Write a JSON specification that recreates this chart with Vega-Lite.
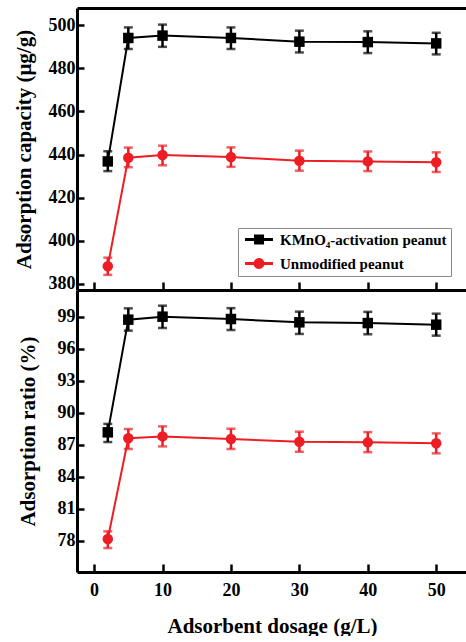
{
  "$schema": "https://vega.github.io/schema/vega-lite/v6.json",
  "padding": {"left": 12, "top": 8, "right": 0, "bottom": 0},
  "background": "white",
  "spacing": 0,
  "bounds": "flush",
  "config": {
    "font": "Liberation Serif",
    "view": {"stroke": null},
    "axis": {
      "labelFont": "Liberation Serif", "labelFontWeight": "bold", "labelFontSize": 18, "labelColor": "black",
      "titleFont": "Liberation Serif", "titleFontWeight": "bold", "titleFontSize": 21, "titleColor": "black",
      "domainColor": "black", "domainWidth": 3, "tickColor": "black", "tickWidth": 2.5, "grid": false
    }
  },
  "datasets": {
    "d": [
      {"dosage": 2, "series": "KMnO₄-activation peanut", "cap": 436.8, "capLo": 432.3, "capHi": 441.5, "ratio": 88.16, "ratioLo": 87.25, "ratioHi": 88.95},
      {"dosage": 5, "series": "KMnO₄-activation peanut", "cap": 494.0, "capLo": 488.9, "capHi": 498.9, "ratio": 98.72, "ratioLo": 97.69, "ratioHi": 99.78},
      {"dosage": 10, "series": "KMnO₄-activation peanut", "cap": 495.1, "capLo": 489.9, "capHi": 500.2, "ratio": 99.0, "ratioLo": 97.94, "ratioHi": 100.03},
      {"dosage": 20, "series": "KMnO₄-activation peanut", "cap": 494.0, "capLo": 488.9, "capHi": 498.9, "ratio": 98.78, "ratioLo": 97.75, "ratioHi": 99.8},
      {"dosage": 30, "series": "KMnO₄-activation peanut", "cap": 492.3, "capLo": 487.3, "capHi": 497.4, "ratio": 98.47, "ratioLo": 97.38, "ratioHi": 99.47},
      {"dosage": 40, "series": "KMnO₄-activation peanut", "cap": 492.1, "capLo": 487.0, "capHi": 497.1, "ratio": 98.4, "ratioLo": 97.35, "ratioHi": 99.45},
      {"dosage": 50, "series": "KMnO₄-activation peanut", "cap": 491.5, "capLo": 486.4, "capHi": 496.4, "ratio": 98.25, "ratioLo": 97.22, "ratioHi": 99.28},
      {"dosage": 2, "series": "Unmodified peanut", "cap": 388.2, "capLo": 384.2, "capHi": 392.2, "ratio": 78.16, "ratioLo": 77.31, "ratioHi": 78.88},
      {"dosage": 5, "series": "Unmodified peanut", "cap": 438.5, "capLo": 434.1, "capHi": 443.2, "ratio": 87.6, "ratioLo": 86.6, "ratioHi": 88.47},
      {"dosage": 10, "series": "Unmodified peanut", "cap": 439.8, "capLo": 435.0, "capHi": 444.1, "ratio": 87.78, "ratioLo": 86.84, "ratioHi": 88.72},
      {"dosage": 20, "series": "Unmodified peanut", "cap": 438.8, "capLo": 434.3, "capHi": 443.3, "ratio": 87.53, "ratioLo": 86.6, "ratioHi": 88.5},
      {"dosage": 30, "series": "Unmodified peanut", "cap": 437.1, "capLo": 432.5, "capHi": 441.8, "ratio": 87.28, "ratioLo": 86.34, "ratioHi": 88.22},
      {"dosage": 40, "series": "Unmodified peanut", "cap": 436.8, "capLo": 432.3, "capHi": 441.4, "ratio": 87.22, "ratioLo": 86.3, "ratioHi": 88.18},
      {"dosage": 50, "series": "Unmodified peanut", "cap": 436.4, "capLo": 431.9, "capHi": 441.0, "ratio": 87.13, "ratioLo": 86.19, "ratioHi": 88.06}
    ]
  },
  "resolve": {"legend": {"color": "independent"}, "scale": {"color": "independent"}},
  "vconcat": [
    {
      "width": 390, "height": 282,
      "data": {"name": "d"},
      "resolve": {"axis": {"x": "independent"}},
      "layer": [
        {
          "mark": {"type": "line", "strokeWidth": 2},
          "encoding": {
            "x": {"field": "dosage", "type": "quantitative", "scale": {"domain": [-2.5, 54.5], "nice": false, "zero": false},
                  "axis": {"orient": "bottom", "values": [0, 10, 20, 30, 40, 50], "labels": false, "title": null, "tickSize": -8}},
            "y": {"field": "cap", "type": "quantitative", "title": "Adsorption capacity (μg/g)",
                  "scale": {"domain": [377.2, 507.9], "nice": false, "zero": false},
                  "axis": {"values": [380, 400, 420, 440, 460, 480, 500], "tickSize": -7, "labelPadding": 9, "titlePadding": 14}},
            "color": {"field": "series", "type": "nominal",
                      "scale": {"domain": ["KMnO₄-activation peanut", "Unmodified peanut"], "range": ["#000000", "#ee1d23"]},
                      "legend": {
                        "orient": "none", "legendX": 161, "legendY": 220, "title": null,
                        "padding": 4, "rowPadding": 8, "symbolSize": 225, "labelOffset": 23, "labelLimit": 400,
                        "labelFont": "Liberation Serif", "labelFontWeight": "bold", "labelFontSize": 15, "labelColor": "black",
                        "strokeColor": "#8a8a8a", "fillColor": "white",
                        "encode": {"symbols": {"update": {
                          "shape": {"signal": "datum.value === 'Unmodified peanut' ? 'M-0.6,-0.2H3.13V0.2H-0.6Z M2,0A0.73,0.73 0 1,1 0.54,0A0.73,0.73 0 1,1 2,0Z' : 'M-0.6,-0.2H3.13V0.2H-0.6Z M0.6,-0.667H1.94V0.667H0.6Z'"},
                          "fill": {"signal": "datum.value === 'Unmodified peanut' ? '#ee1d23' : '#000000'"},
                          "fillOpacity": {"value": 1},
                          "opacity": {"value": 1},
                          "strokeWidth": {"value": 0}
                        }}}
                      }}
          }
        },
        {
          "mark": {"type": "errorbar", "thickness": 2.5, "ticks": {"size": 9, "thickness": 2.5}},
          "encoding": {
            "x": {"field": "dosage", "type": "quantitative", "axis": null},
            "y": {"field": "capLo", "type": "quantitative", "title": "Adsorption capacity (μg/g)"},
            "y2": {"field": "capHi"},
            "color": {"field": "series", "type": "nominal"}
          }
        },
        {
          "transform": [{"filter": "datum.series === 'KMnO₄-activation peanut'"}],
          "mark": {"type": "point", "filled": true, "opacity": 1, "size": 110, "shape": "square"},
          "encoding": {
            "x": {"field": "dosage", "type": "quantitative", "axis": null},
            "y": {"field": "cap", "type": "quantitative", "title": "Adsorption capacity (μg/g)"},
            "color": {"field": "series", "type": "nominal"}
          }
        },
        {
          "transform": [{"filter": "datum.series === 'Unmodified peanut'"}],
          "mark": {"type": "point", "filled": true, "opacity": 1, "size": 110, "shape": "circle"},
          "encoding": {
            "x": {"field": "dosage", "type": "quantitative", "axis": null},
            "y": {"field": "cap", "type": "quantitative", "title": "Adsorption capacity (μg/g)"},
            "color": {"field": "series", "type": "nominal"}
          }
        },
        {
          "mark": {"type": "line", "opacity": 0},
          "encoding": {
            "x": {"field": "dosage", "type": "quantitative", "axis": {"orient": "top", "labels": false, "ticks": false, "title": null}},
            "y": {"field": "cap", "type": "quantitative", "title": "Adsorption capacity (μg/g)"}
          }
        }
      ]
    },
    {
      "width": 390, "height": 282,
      "data": {"name": "d"},
      "layer": [
        {
          "mark": {"type": "line", "strokeWidth": 2},
          "encoding": {
            "x": {"field": "dosage", "type": "quantitative", "title": "Adsorbent dosage (g/L)", "scale": {"domain": [-2.5, 54.5], "nice": false, "zero": false},
                  "axis": {"values": [0, 10, 20, 30, 40, 50], "tickSize": -8, "labelPadding": 17, "titlePadding": 16}},
            "y": {"field": "ratio", "type": "quantitative", "title": "Adsorption ratio (%)",
                  "scale": {"domain": [75.07, 101.5], "nice": false, "zero": false},
                  "axis": {"values": [78, 81, 84, 87, 90, 93, 96, 99], "tickSize": -7, "labelPadding": 9, "titlePadding": 19}},
            "color": {"field": "series", "type": "nominal",
                      "scale": {"domain": ["KMnO₄-activation peanut", "Unmodified peanut"], "range": ["#000000", "#ee1d23"]},
                      "legend": null}
          }
        },
        {
          "mark": {"type": "errorbar", "thickness": 2.5, "ticks": {"size": 9, "thickness": 2.5}},
          "encoding": {
            "x": {"field": "dosage", "type": "quantitative", "title": "Adsorbent dosage (g/L)"},
            "y": {"field": "ratioLo", "type": "quantitative", "title": "Adsorption ratio (%)"},
            "y2": {"field": "ratioHi"},
            "color": {"field": "series", "type": "nominal"}
          }
        },
        {
          "transform": [{"filter": "datum.series === 'KMnO₄-activation peanut'"}],
          "mark": {"type": "point", "filled": true, "opacity": 1, "size": 110, "shape": "square"},
          "encoding": {
            "x": {"field": "dosage", "type": "quantitative", "title": "Adsorbent dosage (g/L)"},
            "y": {"field": "ratio", "type": "quantitative", "title": "Adsorption ratio (%)"},
            "color": {"field": "series", "type": "nominal"}
          }
        },
        {
          "transform": [{"filter": "datum.series === 'Unmodified peanut'"}],
          "mark": {"type": "point", "filled": true, "opacity": 1, "size": 110, "shape": "circle"},
          "encoding": {
            "x": {"field": "dosage", "type": "quantitative", "title": "Adsorbent dosage (g/L)"},
            "y": {"field": "ratio", "type": "quantitative", "title": "Adsorption ratio (%)"},
            "color": {"field": "series", "type": "nominal"}
          }
        }
      ]
    }
  ]
}
